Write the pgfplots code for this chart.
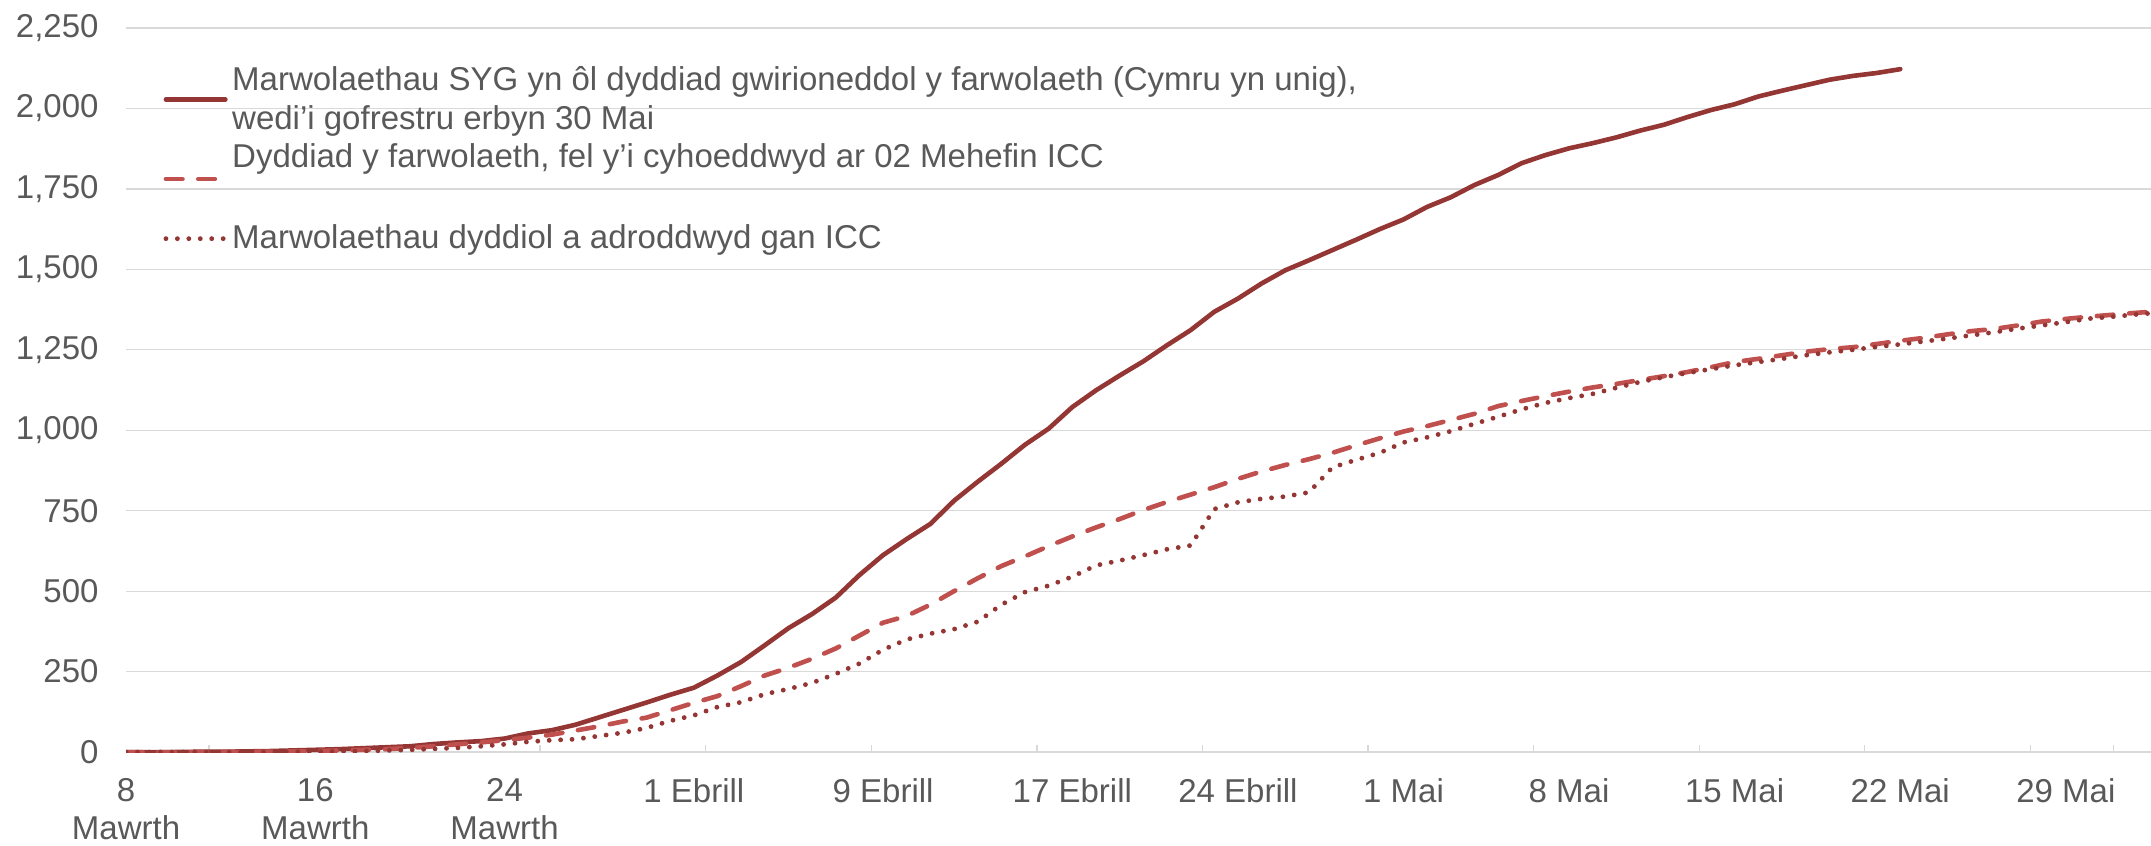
\documentclass[border=0pt]{standalone}
\usepackage{pgfplots}
\usepackage{pgfplotstable}
\pgfplotsset{compat=1.18}
\usepackage{fontspec}
\setmainfont{Liberation Sans}
\definecolor{ons}{HTML}{943634}
\definecolor{iccdash}{HTML}{C0504D}
\definecolor{txt}{HTML}{595959}
\definecolor{gridc}{HTML}{D9D9D9}

% day 0 = 8 Mawrth
\pgfplotstableread{
day val
0 0
1 0
2 0
3 1
4 1
5 2
6 3
7 5
8 7
9 9
10 12
11 15
12 18
13 25
14 30
15 34
16 42
17 58
18 68
19 85
20 108
21 131
22 154
23 178
24 200
25 238
26 280
27 332
28 385
29 429
30 480
31 550
32 612
33 662
34 709
35 781
36 840
37 896
38 955
39 1005
40 1072
41 1124
42 1170
43 1214
44 1264
45 1311
46 1368
47 1409
48 1456
49 1497
50 1528
51 1560
52 1592
53 1625
54 1655
55 1694
56 1724
57 1762
58 1793
59 1830
60 1855
61 1876
62 1892
63 1910
64 1931
65 1949
66 1973
67 1995
68 2013
69 2037
70 2055
71 2072
72 2089
73 2101
74 2110
75 2122
}\syg

\pgfplotstableread{
day val
0 0
1 0
2 0
3 0
4 0
5 1
6 1
7 2
8 3
9 5
10 7
11 9
12 13
13 18
14 24
15 30
16 37
17 45
18 54
19 67
20 80
21 95
22 107
23 130
24 153
25 174
26 205
27 238
28 262
29 290
30 322
31 362
32 402
33 423
34 458
35 500
36 540
37 578
38 608
39 640
40 670
41 698
42 724
43 752
44 777
45 800
46 823
47 849
48 872
49 892
50 910
51 930
52 953
53 975
54 996
55 1013
56 1032
57 1051
58 1075
59 1091
60 1106
61 1120
62 1133
63 1144
64 1156
65 1168
66 1181
67 1196
68 1212
69 1222
70 1233
71 1244
72 1252
73 1258
74 1268
75 1278
76 1287
77 1298
78 1308
79 1315
80 1326
81 1338
82 1346
83 1353
84 1359
85 1365
86 1370
}\iccdate

\pgfplotstableread{
day val
0 0
1 0
2 0
3 0
4 0
5 0
6 0
7 1
8 1
9 2
10 3
11 5
12 7
13 10
14 13
15 18
16 24
17 32
18 37
19 40
20 50
21 60
22 75
23 97
24 114
25 140
26 155
27 180
28 196
29 215
30 243
31 275
32 318
33 350
34 368
35 382
36 405
37 458
38 497
39 517
40 545
41 580
42 595
43 612
44 630
45 642
46 755
47 776
48 787
49 794
50 807
51 885
52 908
53 930
54 962
55 978
56 997
57 1020
58 1042
59 1065
60 1085
61 1100
62 1113
63 1132
64 1150
65 1165
66 1178
67 1190
68 1202
69 1212
70 1222
71 1233
72 1242
73 1250
74 1259
75 1267
76 1276
77 1285
78 1295
79 1305
80 1316
81 1326
82 1336
83 1347
84 1353
85 1360
86 1366
}\iccdaily

\begin{document}
\begin{tikzpicture}
\begin{axis}[
  at={(0,0)}, anchor=south west,
  scale only axis,
  width=920pt, height=329pt,
  xmin=0, xmax=85.6,
  ymin=0, ymax=2250,
  ytick={0,250,...,2250},
  xtick={0,8,16,24,32,40,47,54,61,68,75,82},
  xticklabels={{8\\Mawrth},{16\\Mawrth},{24\\Mawrth},1 Ebrill,9 Ebrill,17 Ebrill,24 Ebrill,1 Mai,8 Mai,15 Mai,22 Mai,29 Mai},
  extra x ticks={3.5,10.5,17.5,24.5,31.5,38.5,45.5,52.5,59.5,66.5,73.5,80.5,84},
  extra x tick labels={},
  extra x tick style={major tick length=3.2pt, tick align=inside},
  major tick length=0pt,
  tick style={draw=gridc, line width=0.6pt},
  axis x line*=bottom,
  axis y line*=left,
  x axis line style={draw=gridc, line width=0.6pt, -},
  y axis line style={draw=none},
  ymajorgrids,
  grid style={draw=gridc, line width=0.6pt},
  ticklabel style={font=\fontsize{15}{17.5}\selectfont, text=txt},
  xticklabel style={align=center, yshift=-8.4pt},
  yticklabel style={xshift=-9pt},
  /pgf/number format/.cd, 1000 sep={,}, assume math mode=true,
  /pgfplots/.cd,
  legend cell align=left,
  legend style={at={(0.015,0.960)}, anchor=north west, draw=none, fill=none,
    font=\fontsize{15}{18}\selectfont, text=txt,
    nodes={align=left}, row sep=0.9pt},
  legend image code/.code={\draw[#1] (0pt,0pt) -- (27pt,0pt);},
]
\addplot[ons, line width=2.1pt, line join=round, line cap=round] table[x=day,y=val]{\syg};
\addlegendentry{Marwolaethau SYG yn ôl dyddiad gwirioneddol y farwolaeth (Cymru yn unig),\\wedi'i gofrestru erbyn 30 Mai}
\addplot[iccdash, line width=2.1pt, line join=round, line cap=round, dash pattern=on 7.5pt off 7.2pt] table[x=day,y=val]{\iccdate};
\addlegendentry{Dyddiad y farwolaeth, fel y'i cyhoeddwyd ar 02 Mehefin ICC\\[1.6pt]\strut}
\addplot[ons, line width=2.2pt, line cap=round, dash pattern=on 0pt off 5.2pt] table[x=day,y=val]{\iccdaily};
\addlegendentry{Marwolaethau dyddiol a adroddwyd gan ICC}
\end{axis}
\pgfresetboundingbox
\useasboundingbox (-57.3pt,-42.3pt) rectangle (920pt,341.7pt);
\end{tikzpicture}
\end{document}
